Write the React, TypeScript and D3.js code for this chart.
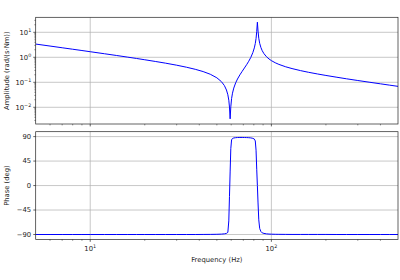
import React from "react";
import * as d3 from "d3";

const freqHz = [5,6,7,8,9,10,12,14,16,18,20,23,26,30,34,38,42,46,50,53,55,56.5,57.5,58.2,58.7,59.2,59.7,60.3,61,62,63.5,65,67,69,71,73,75,77,79,80.5,81.5,82.3,83,83.7,84.4,85.2,86.2,87.5,89,91,94,97,100,105,110,120,130,145,160,180,200,230,260,300,350,400,450,500];
const amplitude = [3.386,2.817,2.410,2.104,1.866,1.674,1.386,1.179,1.022,0.898,0.798,0.678,0.584,0.483,0.401,0.331,0.2685,0.2097,0.1514,0.1062,0.0744,0.0492,0.0317,0.0192,0.0102,0.00345,0.01045,0.0223,0.0367,0.0588,0.0949,0.1354,0.1983,0.2755,0.3741,0.5062,0.6954,0.993,1.539,2.377,3.558,5.647,10.72,25.35,11.16,5.762,3.608,2.477,1.841,1.398,1.052,0.860,0.737,0.605,0.521,0.417,0.354,0.293,0.252,0.215,0.188,0.159,0.138,0.118,0.100,0.0869,0.0768,0.0689];
const phaseDeg = [-90,-90,-90,-90,-90,-90,-90,-90,-90,-90,-90,-90,-90,-90,-90,-90,-89.9,-89.8,-89.6,-89.3,-88.8,-88,-86,-65,-20,25,68,84,86.5,87.5,88,88.3,88.4,88.4,88.3,88.2,88,87.6,86.8,85.5,82,65,30,0,-32,-63,-79,-84.5,-87,-88,-88.8,-89.2,-89.4,-89.6,-89.7,-89.8,-89.9,-89.9,-89.9,-89.9,-89.9,-90,-90,-90,-90,-90,-90,-90];

const ampTickExp = [1, 0, -1, -2];
const phaseTicks = [90, 45, 0, -45, -90];
const freqTickExp = [1, 2];
const freqMinor = [6,7,8,9,20,30,40,50,60,70,80,90,200,300,400];

const FONT = "DejaVu Sans, sans-serif";
const FS = 6.8;
const minus = (s: string) => s.replace("-", "\u2212");

export default function App() {
  const W = 400, H = 280;
  const left = 35.7, right = 398;
  const top1 = 17.3, bot1 = 124;
  const top2 = 131.7, bot2 = 239.4;

  const x = d3.scaleLog().domain([5, 500]).range([left, right]);
  const yA = d3.scaleLog().domain([Math.pow(10, -2.668), Math.pow(10, 1.6)]).range([bot1, top1]);
  const yP = d3.scaleLinear().domain([-99, 99]).range([bot2, top2]);

  const idx = d3.range(freqHz.length);
  const ampLine = d3.line<number>().x(i => x(freqHz[i])).y(i => yA(amplitude[i]))(idx) || "";
  const phLine = d3.line<number>().x(i => x(freqHz[i])).y(i => yP(phaseDeg[i]))(idx) || "";

  const ampMinor: number[] = [];
  for (let e = -3; e <= 1; e++) {
    for (let m = 2; m <= 9; m++) {
      const v = m * Math.pow(10, e);
      if (v >= yA.domain()[0] && v <= yA.domain()[1]) ampMinor.push(v);
    }
  }

  const grid = "#b0b0b0";
  const gw = 0.7;
  const spine = "#222";
  const sw = 0.7;
  const maj = 2.4, mnr = 1.4;

  const xTicks = (yb: number) => (
    <g>
      {freqTickExp.map(e => (
        <line key={"M" + e} x1={x(Math.pow(10, e))} x2={x(Math.pow(10, e))} y1={yb} y2={yb + maj} stroke={spine} strokeWidth={sw} />
      ))}
      {freqMinor.map(v => (
        <line key={"m" + v} x1={x(v)} x2={x(v)} y1={yb} y2={yb + mnr} stroke={spine} strokeWidth={0.5} />
      ))}
    </g>
  );

  return (
    <div style={{ position: "fixed", left: 0, top: 0 }}>
      <svg width={W} height={H} viewBox={`0 0 ${W} ${H}`} style={{ display: "block", background: "#fff" }}>
        <rect x={0} y={0} width={W} height={H} fill="#fff" />
        {/* top axes grid */}
        <g>
          {ampTickExp.map(e => (
            <line key={e} x1={left} x2={right} y1={yA(Math.pow(10, e))} y2={yA(Math.pow(10, e))} stroke={grid} strokeWidth={gw} />
          ))}
          {freqTickExp.map(e => (
            <line key={"v" + e} x1={x(Math.pow(10, e))} x2={x(Math.pow(10, e))} y1={top1} y2={bot1} stroke={grid} strokeWidth={gw} />
          ))}
        </g>
        {/* bottom axes grid */}
        <g>
          {phaseTicks.map(t => (
            <line key={t} x1={left} x2={right} y1={yP(t)} y2={yP(t)} stroke={grid} strokeWidth={gw} />
          ))}
          {freqTickExp.map(e => (
            <line key={"v" + e} x1={x(Math.pow(10, e))} x2={x(Math.pow(10, e))} y1={top2} y2={bot2} stroke={grid} strokeWidth={gw} />
          ))}
        </g>
        {/* data */}
        <defs>
          <clipPath id="c1"><rect x={left} y={top1} width={right - left} height={bot1 - top1} /></clipPath>
          <clipPath id="c2"><rect x={left} y={top2} width={right - left} height={bot2 - top2} /></clipPath>
        </defs>
        <path d={ampLine} fill="none" stroke="#0000ff" strokeWidth={1} clipPath="url(#c1)" strokeLinejoin="round" />
        <path d={phLine} fill="none" stroke="#0000ff" strokeWidth={1} clipPath="url(#c2)" strokeLinejoin="round" />
        {/* spines */}
        <rect x={left} y={top1} width={right - left} height={bot1 - top1} fill="none" stroke={spine} strokeWidth={sw} />
        <rect x={left} y={top2} width={right - left} height={bot2 - top2} fill="none" stroke={spine} strokeWidth={sw} />
        {/* top y ticks */}
        {ampTickExp.map(e => (
          <g key={e}>
            <line x1={left - maj} x2={left} y1={yA(Math.pow(10, e))} y2={yA(Math.pow(10, e))} stroke={spine} strokeWidth={sw} />
            <text x={left - 4.5} y={yA(Math.pow(10, e)) + 2.4} textAnchor="end" fontFamily={FONT} fontSize={FS} fill="#222">
              10<tspan fontSize={4.8} dy={-3}>{minus(String(e))}</tspan>
            </text>
          </g>
        ))}
        {ampMinor.map(v => (
          <line key={v} x1={left - mnr} x2={left} y1={yA(v)} y2={yA(v)} stroke={spine} strokeWidth={0.5} />
        ))}
        {/* bottom y ticks */}
        {phaseTicks.map(t => (
          <g key={t}>
            <line x1={left - maj} x2={left} y1={yP(t)} y2={yP(t)} stroke={spine} strokeWidth={sw} />
            <text x={left - 4.5} y={yP(t) + 2.4} textAnchor="end" fontFamily={FONT} fontSize={FS} fill="#222">
              {minus(String(t))}
            </text>
          </g>
        ))}
        {/* x ticks */}
        {xTicks(bot1)}
        {xTicks(bot2)}
        {freqTickExp.map(e => (
          <text key={e} x={x(Math.pow(10, e))} y={bot2 + 11.3} textAnchor="middle" fontFamily={FONT} fontSize={FS} fill="#222">
            10<tspan fontSize={4.8} dy={-3}>{String(e)}</tspan>
          </text>
        ))}
        {/* axis labels */}
        <text x={(left + right) / 2} y={261.5} textAnchor="middle" fontFamily={FONT} fontSize={FS} fill="#222">Frequency (Hz)</text>
        <text transform={`translate(8.6,${(top1 + bot1) / 2}) rotate(-90)`} textAnchor="middle" fontFamily={FONT} fontSize={FS} fill="#222">Amplitude (rad/(s·Nm))</text>
        <text transform={`translate(8.6,${(top2 + bot2) / 2}) rotate(-90)`} textAnchor="middle" fontFamily={FONT} fontSize={FS} fill="#222">Phase (deg)</text>
      </svg>
    </div>
  );
}
